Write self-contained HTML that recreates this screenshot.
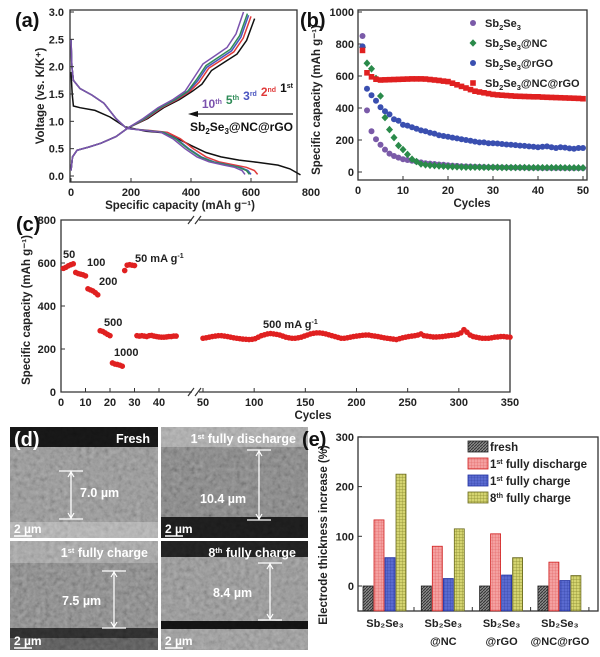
<!DOCTYPE html>
<html><head><meta charset="utf-8"><style>
body{margin:0;background:#fff;}
svg{display:block;font-family:"Liberation Sans",Arial,sans-serif;}
text{font-weight:bold;}
</style></head><body>
<svg id="fig" width="600" height="657" viewBox="0 0 600 657" xmlns="http://www.w3.org/2000/svg">
<defs>
<filter id="semtex" x="0" y="0" width="100%" height="100%">
<feTurbulence type="fractalNoise" baseFrequency="0.22" numOctaves="4" seed="7" result="n"/>
<feColorMatrix type="matrix" values="0.6 0.6 0 0 -0.1  0.6 0.6 0 0 -0.1  0.6 0.6 0 0 -0.1  0 0 0 0 1" in="n"/>
</filter>
<pattern id="pFresh" width="3" height="3" patternUnits="userSpaceOnUse"><rect width="3" height="3" fill="#8a8a8a"/><path d="M0 3L3 0" stroke="#333" stroke-width="1"/></pattern>
<pattern id="pRed" width="3" height="3" patternUnits="userSpaceOnUse"><rect width="3" height="3" fill="#f4a0a0"/><path d="M0 0H3M0 0V3" stroke="#e06060" stroke-width="0.6"/></pattern>
<pattern id="pBlue" width="3" height="3" patternUnits="userSpaceOnUse"><rect width="3" height="3" fill="#5a6ad0"/><path d="M0 0H3M0 0V3" stroke="#3040a0" stroke-width="0.6"/></pattern>
<pattern id="pOlive" width="3" height="3" patternUnits="userSpaceOnUse"><rect width="3" height="3" fill="#d4d470"/><path d="M0 0H3M0 0V3" stroke="#8a8a30" stroke-width="0.7"/></pattern>
</defs>
<g id="pa"></g>
<g id="pb"></g>
<g id="pc"></g>
<g id="pd"></g>
<g id="pe"></g>
</svg>
<script>
// ---------- Panel (a) data ----------
const aDisLabels = ["1st","2nd","3rd","5th","10th"];
const aColors = ["#111111","#e03a3a","#4a55c0","#2e8b57","#7b52ae"];
const aDis1 = [[0,1.9],[4,1.5],[8,1.28],[30,1.25],[80,1.2],[130,1.08],[180,0.9],[250,0.82],[310,0.79],[350,0.7],[400,0.56],[450,0.43],[500,0.35],[560,0.29],[620,0.25],[690,0.2],[730,0.13],[765,0.02]];
const aDisEnd = [765,622,600,595,580];
const aDisN = [[0,2.5],[3,2.0],[8,1.75],[30,1.6],[70,1.48],[110,1.33],[150,1.05],[185,0.87],[250,0.83],[300,0.8],[340,0.68],[380,0.5],[420,0.35],[460,0.26],[510,0.2],[545,0.16],[570,0.1],[580,0.03]];
const aChgEnd = [612,600,592,588,575];
const aChg = [[0,0.1],[5,0.35],[20,0.47],[60,0.53],[100,0.6],[150,0.72],[190,0.88],[240,1.05],[290,1.25],[340,1.4],[380,1.55],[410,1.8],[440,2.05],[480,2.2],[520,2.35],[550,2.6],[575,3.0]];
const aChgSag = [0.12,0.08,0.06,0.03,0];
// ---------- Panel (b) data ----------
const bCycles = Array.from({length:50},(_,i)=>i+1);
const bSb = [850,385,255,205,170,140,115,100,90,80,75,70,65,60,55,52,50,47,45,42,40,38,36,35,34,33,32,31,30,30,29,29,28,28,27,27,27,26,26,26,25,25,25,25,25,25,24,24,24,24];
const bNC = [780,680,645,585,475,340,265,215,165,140,110,80,65,50,45,42,40,38,36,34,33,32,31,30,30,30,30,29,29,29,29,28,28,28,28,28,28,27,27,27,27,27,27,27,27,26,26,26,26,26];
const bRGO = [785,520,480,445,405,380,360,330,320,295,290,280,270,260,255,245,240,230,225,220,215,210,205,200,195,190,185,185,180,180,178,175,172,170,168,165,163,160,158,155,158,160,155,150,155,152,148,145,150,150];
const bNCRGO = [760,620,595,580,575,576,577,578,579,580,581,582,582,582,581,578,575,572,568,565,555,545,535,525,515,505,500,495,490,485,482,480,478,476,474,473,472,471,470,470,468,467,466,465,464,463,462,461,460,458];
// ---------- Panel (c) data ----------
const cSeg1 = [575,580,587,592,596,556,551,548,545,540,480,475,470,462,452,285,282,275,268,262,135,130,128,125,120,565,590,592,590,588,262,260,262,260,258,262,263,260,258,256,255,255,256,258,258,260,260];
const cSeg2Start = 50, cSeg2Step = 3;
const cSeg2 = [250,252,255,258,260,262,262,260,258,255,252,250,248,246,245,244,245,
248,255,262,266,270,272,270,268,265,260,255,252,250,250,252,255,260,
265,270,273,275,275,273,270,266,262,258,254,250,250,252,255,258,260,
262,264,265,265,262,260,258,255,252,250,248,246,244,248,252,255,258,
260,262,265,270,262,260,258,256,256,257,258,260,262,264,265,268,275,
290,278,265,258,255,252,250,250,250,252,255,256,258,258,256,255];
const cYTicks = [0,200,400,600,800];
const cXTicks1 = [0,10,20,30,40];
const cXTicks2 = [50,100,150,200,250,300,350];
// ---------- Panel (e) data ----------
const eGroups = [["Sb₂Se₃",""],["Sb₂Se₃","@NC"],["Sb₂Se₃","@rGO"],["Sb₂Se₃","@NC@rGO"]];
const eFresh = [0,0,0,0];
const eDis1 = [133,80,105,48];
const eChg1 = [57,15,22,11];
const eChg8 = [225,115,57,21];
const eYTicks = [0,100,200,300];

const NS="http://www.w3.org/2000/svg";
function mk(parent,tag,attrs,txt){const e=document.createElementNS(NS,tag);for(const k in attrs)e.setAttribute(k,attrs[k]);if(txt!==undefined)e.textContent=txt;parent.appendChild(e);return e;}
function pts(arr,sx,sy){return arr.map(p=>sx(p[0]).toFixed(1)+","+sy(p[1]).toFixed(1)).join(" ");}

// ===== Panel A =====
(function(){
const g=document.getElementById('pa');
const L=70,R=297,T=10,B=182;
const sx=v=>71+v*0.3, sy=v=>176-v*(164/3);
let el;
el=mk(g,'rect',{x:L,y:T,width:R-L,height:B-T,fill:'none',stroke:'#333','stroke-width':1.3});

for(let i=0;i<aColors.length;i++){
  let dis = i===0 ? aDis1 : aDisN.map(p=>[p[0]*(p[0]>200?aDisEnd[i]/580:1),p[1]]);
  el=mk(g,'polyline',{points:pts(dis,sx,sy),fill:'none',stroke:aColors[i],'stroke-width':1.5});
  
  const ch = aChg.map(p=>[p[0]*(p[0]>200?(aChgEnd[i]/575):1),p[1]-(p[0]>380?aChgSag[i]:0)]);
  el=mk(g,'polyline',{points:pts(ch,sx,sy),fill:'none',stroke:aColors[i],'stroke-width':1.5});
  
}
[0,0.5,1,1.5,2,2.5,3].forEach(v=>{
  el=mk(g,'text',{x:64,y:sy(v)+4,'text-anchor':'end','font-size':11,fill:'#222'},v.toFixed(1));
  
  mk(g,'line',{x1:L,x2:L+4,y1:sy(v),y2:sy(v),stroke:'#333'});
});
[0,200,400,600,800].forEach(v=>{
  el=mk(g,'text',{x:sx(v),y:196,'text-anchor':'middle','font-size':11,fill:'#222'},String(v));
  
  if(v<800)mk(g,'line',{x1:sx(v),x2:sx(v),y1:B,y2:B-4,stroke:'#333'});
});
el=mk(g,'text',{x:15,y:27,'font-size':20,fill:'#111'},'(a)');
el=mk(g,'text',{x:0,y:0,'font-size':11.5,fill:'#222','text-anchor':'middle',transform:'translate(44,96) rotate(-90)'},'Voltage (vs. K/K⁺)');

el=mk(g,'text',{x:180,y:209,'font-size':11.5,fill:'#222','text-anchor':'middle'},'Specific capacity (mAh g⁻¹)');

const lg=mk(g,'text',{x:293,y:108,'font-size':12,'text-anchor':'end'});

[["10","th","#7b52ae"],["5","th","#2e8b57"],["3","rd","#4a55c0"],["2","nd","#e03a3a"],["1","st","#111"]].forEach((c,i)=>{
  mk(lg,'tspan',{fill:c[2],dx:i?4:0},c[0]);mk(lg,'tspan',{fill:c[2],'font-size':7,dy:-4},c[1]);mk(lg,'tspan',{dy:4,'font-size':12},'');
});
el=mk(g,'line',{x1:195,x2:293,y1:114,y2:114,stroke:'#111','stroke-width':1.3});

mk(g,'path',{d:'M188 114 L198 111 L198 117 Z',fill:'#111'});
el=mk(g,'text',{x:293,y:131,'font-size':12,'text-anchor':'end',fill:'#111'});

mk(el,'tspan',{},'Sb');mk(el,'tspan',{'font-size':8,dy:3},'2');mk(el,'tspan',{dy:-3},'Se');mk(el,'tspan',{'font-size':8,dy:3},'3');mk(el,'tspan',{dy:-3},'@NC@rGO');
})();

// ===== Panel B =====
(function(){
const g=document.getElementById('pb');
const L=358,R=587,T=10,B=180;
const sx=v=>358+v*4.5, sy=v=>172-v*0.16;
let el=mk(g,'rect',{x:L,y:T,width:R-L,height:B-T,fill:'none',stroke:'#333','stroke-width':1.3});

[0,200,400,600,800,1000].forEach(v=>{
  el=mk(g,'text',{x:354,y:sy(v)+4,'text-anchor':'end','font-size':11,fill:'#222'},String(v));
  
  mk(g,'line',{x1:L,x2:L+4,y1:sy(v),y2:sy(v),stroke:'#333'});
});
[0,10,20,30,40,50].forEach(v=>{
  el=mk(g,'text',{x:sx(v),y:194,'text-anchor':'middle','font-size':11,fill:'#222'},String(v));
  
  mk(g,'line',{x1:sx(v),x2:sx(v),y1:B,y2:B-4,stroke:'#333'});
});
const series=[[bSb,'#7a5aa8','c','sb2se3'],[bNC,'#2a8a4a','d','sb2se3-nc'],[bRGO,'#3a4fb0','c','sb2se3-rgo'],[bNCRGO,'#e02020','s','sb2se3-nc-rgo']];
series.forEach(s=>{
  s[0].forEach((v,i)=>{
    const x=sx(bCycles[i]),y=sy(v);
    if(s[2]==='c')el=mk(g,'circle',{cx:x,cy:y,r:3,fill:s[1]});
    else if(s[2]==='d')el=mk(g,'path',{d:`M${x} ${y-3.8}L${x+3.5} ${y}L${x} ${y+3.8}L${x-3.5} ${y}Z`,fill:s[1]});
    else el=mk(g,'rect',{x:x-2.8,y:y-2.8,width:5.6,height:5.6,fill:s[1]});
    
  });
});
const leg=[['Sb','2','Se','3',''],['Sb','2','Se','3','@NC'],['Sb','2','Se','3','@rGO'],['Sb','2','Se','3','@NC@rGO']];
leg.forEach((l,i)=>{
  const y=23+i*20,x=473,s=series[i];
  if(s[2]==='c')mk(g,'circle',{cx:x,cy:y,r:3,fill:s[1]});
  else if(s[2]==='d')mk(g,'path',{d:`M${x} ${y-3.8}L${x+3.5} ${y}L${x} ${y+3.8}L${x-3.5} ${y}Z`,fill:s[1]});
  else mk(g,'rect',{x:x-2.8,y:y-2.8,width:5.6,height:5.6,fill:s[1]});
  el=mk(g,'text',{x:485,y:y+4,'font-size':11,fill:'#222'});
  
  mk(el,'tspan',{},'Sb');mk(el,'tspan',{'font-size':7.5,dy:3},'2');mk(el,'tspan',{dy:-3},'Se');mk(el,'tspan',{'font-size':7.5,dy:3},'3');mk(el,'tspan',{dy:-3},l[4]);
});
el=mk(g,'text',{x:300,y:27,'font-size':20,fill:'#111'},'(b)');
el=mk(g,'text',{x:0,y:0,'font-size':11.5,fill:'#222','text-anchor':'middle',transform:'translate(320,100) rotate(-90)'},'Specific capacity (mAh g⁻¹)');

el=mk(g,'text',{x:472,y:207,'font-size':11.5,fill:'#222','text-anchor':'middle'},'Cycles');

})();

// ===== Panel C =====
(function(){
const g=document.getElementById('pc');
const L=61,R=510,T=220,B=392,BR=192,BR2=199;
const sx1=v=>61+v*2.45, sx2=v=>203+(v-50)*1.0233, sy=v=>392-v*0.215;
let el;
el=mk(g,'path',{d:`M${BR} ${T}H${L}V${B}H${BR} M${BR2} ${B}H${R}V${T}H${BR2}`,fill:'none',stroke:'#333','stroke-width':1.3});

[T,B].forEach(y=>{[BR-2,BR2-2].forEach(x=>mk(g,'line',{x1:x-2,y1:y+4,x2:x+4,y2:y-4,stroke:'#333','stroke-width':1.2}));});
cYTicks.forEach(v=>{
  el=mk(g,'text',{x:56,y:sy(v)+4,'text-anchor':'end','font-size':11,fill:'#222'},String(v));
  
  mk(g,'line',{x1:L,x2:L+4,y1:sy(v),y2:sy(v),stroke:'#333'});
});
cXTicks1.forEach(v=>{
  el=mk(g,'text',{x:sx1(v),y:406,'text-anchor':'middle','font-size':11,fill:'#222'},String(v));
  
  mk(g,'line',{x1:sx1(v),x2:sx1(v),y1:B,y2:B-4,stroke:'#333'});
});
cXTicks2.forEach(v=>{
  el=mk(g,'text',{x:sx2(v),y:406,'text-anchor':'middle','font-size':11,fill:'#222'},String(v));
  
  mk(g,'line',{x1:sx2(v),x2:sx2(v),y1:B,y2:B-4,stroke:'#333'});
});
cSeg1.forEach((v,i)=>{
  el=mk(g,'circle',{cx:sx1(i+1),cy:sy(v),r:2.8,fill:'#e02020'});
  
});
cSeg2.forEach((v,i)=>{
  el=mk(g,'circle',{cx:sx2(cSeg2Start+i*cSeg2Step),cy:sy(v),r:2.8,fill:'#e02020'});
  
});
const ann=[[63,258,'50'],[87,266,'100'],[99,285,'200'],[104,326,'500'],[114,356,'1000']];
ann.forEach(a=>{el=mk(g,'text',{x:a[0],y:a[1],'font-size':11,fill:'#222'},a[2]);});
el=mk(g,'text',{x:135,y:262,'font-size':11,fill:'#222'});mk(el,'tspan',{},'50 mA g');mk(el,'tspan',{'font-size':7,dy:-4},'-1');

el=mk(g,'text',{x:263,y:328,'font-size':11,fill:'#222'});mk(el,'tspan',{},'500 mA g');mk(el,'tspan',{'font-size':7,dy:-4},'-1');

el=mk(g,'text',{x:16,y:231,'font-size':20,fill:'#111'},'(c)');
el=mk(g,'text',{x:0,y:0,'font-size':11.5,fill:'#222','text-anchor':'middle',transform:'translate(30,310) rotate(-90)'},'Specific capacity (mAh g⁻¹)');

el=mk(g,'text',{x:313,y:419,'font-size':11.5,fill:'#222','text-anchor':'middle'},'Cycles');

})();

// ===== Panel D (SEM) =====
(function(){
const g=document.getElementById('pd');
const imgs=[
 {x:10,y:427,w:148,h:111,name:'sem-fresh',bands:[[0,22,'#141414'],[20,75,'#8a8a8a'],[95,16,'#a8a8a8']],title:['Fresh',''],tx:150},
 {x:161,y:427,w:147,h:111,name:'sem-1st-discharge',bands:[[0,22,'#a0a0a0'],[20,75,'#7a7a7a'],[90,21,'#1a1a1a']],title:['1','st fully discharge'],tx:296},
 {x:10,y:541,w:148,h:109,name:'sem-1st-charge',bands:[[0,22,'#9a9a9a'],[22,65,'#7e7e7e'],[87,12,'#2a2a2a'],[97,12,'#555']],title:['1','st fully charge'],tx:148},
 {x:161,y:541,w:147,h:109,name:'sem-8th-charge',bands:[[0,18,'#1e1e1e'],[16,66,'#8a8a8a'],[80,8,'#111'],[88,21,'#909090']],title:['8','th fully charge'],tx:296}
];
imgs.forEach(im=>{
  const gg=mk(g,'g',{});
  
  im.bands.forEach(b=>mk(gg,'rect',{x:im.x,y:im.y+b[0],width:im.w,height:b[1],fill:b[2]}));
  mk(gg,'rect',{x:im.x,y:im.y,width:im.w,height:im.h,filter:'url(#semtex)',opacity:0.35,style:'mix-blend-mode:overlay'});
  let el=mk(gg,'text',{x:im.tx,y:im.y+16,'font-size':12.5,fill:'#fff','text-anchor':'end'});
  
  if(im.title[1]===''){mk(el,'tspan',{},im.title[0]);}
  else{mk(el,'tspan',{},im.title[0]);mk(el,'tspan',{'font-size':7.5,dy:-4},im.title[1].slice(0,2));mk(el,'tspan',{dy:4},im.title[1].slice(2));}
  el=mk(gg,'text',{x:im.x+4,y:im.y+im.h-5,'font-size':12,fill:'#fff'},'2 µm');
  
  mk(gg,'line',{x1:im.x+4,x2:im.x+22,y1:im.y+im.h-2,y2:im.y+im.h-2,stroke:'#fff','stroke-width':1.5});
});
const meas=[[71,471,519,'7.0 µm',80,497],[259,450,520,'10.4 µm',200,503],[114,571,628,'7.5 µm',62,605],[270,563,620,'8.4 µm',213,597]];
meas.forEach(m=>{
  const mg=mk(g,'g',{});
  mk(mg,'line',{x1:m[0],x2:m[0],y1:m[1],y2:m[2],stroke:'#fff','stroke-width':1.3});
  mk(mg,'line',{x1:m[0]-12,x2:m[0]+12,y1:m[1],y2:m[1],stroke:'#fff','stroke-width':1.3});
  mk(mg,'line',{x1:m[0]-12,x2:m[0]+12,y1:m[2],y2:m[2],stroke:'#fff','stroke-width':1.3});
  mk(mg,'path',{d:`M${m[0]-3} ${m[1]+6}L${m[0]} ${m[1]+1}L${m[0]+3} ${m[1]+6} M${m[0]-3} ${m[2]-6}L${m[0]} ${m[2]-1}L${m[0]+3} ${m[2]-6}`,stroke:'#fff',fill:'none','stroke-width':1.2});
  mk(mg,'text',{x:m[4],y:m[5],'font-size':12.5,fill:'#fff'},m[3]);
});
const el=mk(g,'text',{x:14,y:446,'font-size':20,fill:'#fff'},'(d)');
})();

// ===== Panel E =====
(function(){
const g=document.getElementById('pe');
const L=358,R=598,T=437,B=611;
const sy=v=>586-v*0.497;
const base=sy(-50);
let el=mk(g,'rect',{x:L,y:T,width:R-L,height:B-T,fill:'none',stroke:'#333','stroke-width':1.3});

eYTicks.forEach(v=>{
  el=mk(g,'text',{x:354,y:sy(v)+4,'text-anchor':'end','font-size':11,fill:'#222'},String(v));
  
  mk(g,'line',{x1:L,x2:L+4,y1:sy(v),y2:sy(v),stroke:'#333'});
});
const series=[[eFresh,'url(#pFresh)','#222','fresh'],[eDis1,'url(#pRed)','#d02020','1st-discharge'],[eChg1,'url(#pBlue)','#2030a0','1st-charge'],[eChg8,'url(#pOlive)','#6a6a20','8th-charge']];
const gx=i=>363+i*58.3, bw=11;
series.forEach((s,si)=>{
  s[0].forEach((v,i)=>{
    const x=gx(i)+si*bw, y=sy(v);
    el=mk(g,'rect',{x:x,y:y,width:bw-1,height:base-y,fill:s[1],stroke:s[2],'stroke-width':0.8});
    
  });
});
eGroups.forEach((n,i)=>{
  const cx=gx(i)+22;
  el=mk(g,'text',{x:cx,y:627,'font-size':11,fill:'#222','text-anchor':'middle'},n[0]);
  
  if(n[1]){el=mk(g,'text',{x:cx,y:645,'font-size':11,fill:'#222','text-anchor':'middle'},n[1]);}
  mk(g,'line',{x1:cx+29,x2:cx+29,y1:B,y2:B-4,stroke:'#333'});
});
const leg=[['fresh',''],['1','st fully discharge'],['1','st fully charge'],['8','th fully charge']];
leg.forEach((l,i)=>{
  const y=441+i*17;
  mk(g,'rect',{x:468,y:y,width:20,height:11,fill:series[i][1],stroke:series[i][2],'stroke-width':0.8});
  el=mk(g,'text',{x:490,y:y+10,'font-size':11.5,fill:'#222'});
  
  if(!l[1])mk(el,'tspan',{},l[0]);
  else{mk(el,'tspan',{},l[0]);mk(el,'tspan',{'font-size':7,dy:-4},l[1].slice(0,2));mk(el,'tspan',{dy:4},l[1].slice(2));}
});
el=mk(g,'text',{x:302,y:446,'font-size':20,fill:'#111'},'(e)');
el=mk(g,'text',{x:0,y:0,'font-size':11.5,fill:'#222','text-anchor':'middle',transform:'translate(327,535) rotate(-90)'},'Electrode thickness increase (%)');

})();
</script>
</body></html>
